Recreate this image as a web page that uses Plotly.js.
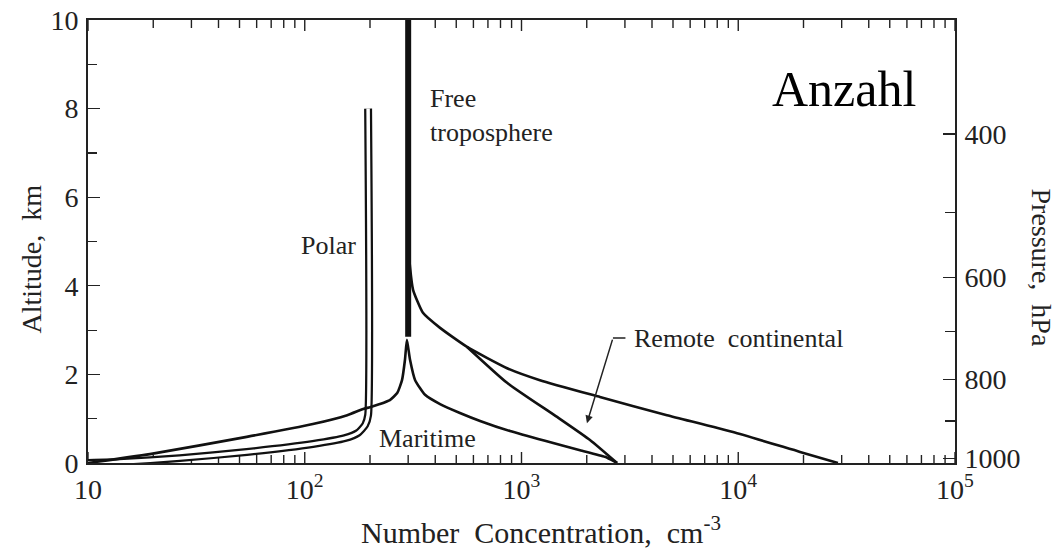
<!DOCTYPE html>
<html>
<head>
<meta charset="utf-8">
<script src="https://cdn.plot.ly/plotly-3.0.1.min.js"></script>
<style>html,body{margin:0;padding:0;background:#fff;}#chart{width:1056px;height:551px;}</style>
</head>
<body>
<div id="chart"></div>
<script>
// ---- data ----
const freeTropN   = [300, 300];
const freeTropAlt = [2.85, 10];

const polarN   = [196, 196, 190, 176, 153, 109, 54, 26.5, 14, 10];
const polarAlt = [8.0, 1.08, 0.86, 0.68, 0.56, 0.43, 0.25, 0.11, 0.02, 0];

const maritimeN   = [10, 19.3, 54, 109, 157, 186, 200, 222, 247, 267, 281, 290, 296,
                     306, 323, 359, 421, 520, 644, 885, 1283, 1862, 2427, 2760];
const maritimeAlt = [0, 0.20, 0.59, 0.88, 1.08, 1.22, 1.26, 1.33, 1.42, 1.58, 1.87, 2.33, 2.78,
                     2.33, 1.87, 1.54, 1.33, 1.13, 0.95, 0.72, 0.50, 0.29, 0.14, 0];

const remoteOuterN   = [28840, 19280, 9460, 4690, 2300, 1216, 858, 561, 421, 351, 316, 306, 300, 300];
const remoteOuterAlt = [0, 0.25, 0.70, 1.08, 1.49, 1.87, 2.14, 2.62, 3.05, 3.39, 3.91, 4.42, 5.03, 10];

const remoteInnerN   = [2760, 2070, 1459, 858, 561];
const remoteInnerAlt = [0, 0.52, 1.04, 1.81, 2.62];

const xTickVals   = [10, 100, 1000, 10000, 100000];
const xTickText   = ['10', '10<sup>2</sup>', '10<sup>3</sup>', '10<sup>4</sup>', '10<sup>5</sup>'];
const yTickVals   = [0, 2, 4, 6, 8, 10];
const pressureLabels = ['400', '600', '800', '1000'];
const pressureAlt    = [7.43, 4.19, 1.89, 0.10];
const pressureMinorAlt = [5.65, 2.96, 0.95];

// minor x ticks: 2..9 of each decade
const xMinor = [];
xTickVals.forEach(d => { if (d < 100000) for (let k = 2; k <= 9; k++) xMinor.push(k * d); });

const serif = 'Liberation Serif, Times New Roman, serif';
const txt = '#222';
const Y_RANGE = [0, 10];
const PLOT_H = 551 - 20 - 88;                   // plot-area height in px
const pxToKm = px => px * (Y_RANGE[1] - Y_RANGE[0]) / PLOT_H;

// inward tick marks on bottom and top of the log x axis, drawn as one segmented trace
function tickTrace(vals, lenPx) {
  const L = pxToKm(lenPx), xs = [], ys = [];
  vals.forEach(v => {
    xs.push(v, v, null, v, v, null);
    ys.push(Y_RANGE[0], Y_RANGE[0] + L, null, Y_RANGE[1], Y_RANGE[1] - L, null);
  });
  return {x: xs, y: ys, type: 'scatter', mode: 'lines', line: {color: '#222', width: 1.4},
          connectgaps: false, hoverinfo: 'skip', showlegend: false};
}

const line = (x, y, w, c) => ({x: x, y: y, type: 'scatter', mode: 'lines', line: {color: c || '#111', width: w, shape: 'spline', smoothing: 0.5}, hoverinfo: 'skip', showlegend: false});

const traces = [
  tickTrace(xTickVals, 11),
  tickTrace(xMinor, 8),
  line(polarN, polarAlt, 8),
  line(polarN, polarAlt, 3.5, '#fff'),
  line(maritimeN, maritimeAlt, 2.6),
  line(remoteOuterN, remoteOuterAlt, 2.6),
  line(remoteInnerN, remoteInnerAlt, 2.6),
  {x: freeTropN, y: freeTropAlt, type: 'scatter', mode: 'lines', line: {color: '#111', width: 6}, hoverinfo: 'skip', showlegend: false},
  {x: [10], y: [0], yaxis: 'y2', type: 'scatter', mode: 'markers', marker: {opacity: 0}, hoverinfo: 'skip', showlegend: false}
];

const L10 = Math.log10;
const tickFont = {family: serif, size: 28, color: txt};
const annFont = {family: serif, size: 26, color: txt};
const titleFont = {family: serif, size: 30, color: txt};
const layout = {
  width: 1056, height: 551,
  margin: {l: 88, r: 101, t: 20, b: 88},
  paper_bgcolor: '#fff', plot_bgcolor: '#fff',
  font: {family: serif, size: 26, color: txt},
  showlegend: false,
  xaxis: {
    type: 'log', range: [1, 5],
    tickmode: 'array', tickvals: xTickVals, ticktext: xTickText,
    ticks: '', showline: true, linecolor: '#222', linewidth: 2, mirror: true,
    showgrid: false, zeroline: false,
    tickfont: tickFont
  },
  yaxis: {
    range: Y_RANGE, tickmode: 'array', tickvals: yTickVals,
    ticks: 'inside', ticklen: 12, tickwidth: 1.3, tickcolor: '#222',
    minor: {dtick: 1, ticks: 'inside', ticklen: 9, tickwidth: 1.2, tickcolor: '#222'},
    showline: true, linecolor: '#222', linewidth: 2, mirror: false,
    showgrid: false, zeroline: false,
    ticklabelstandoff: 2,
    tickfont: tickFont
  },
  yaxis2: {
    overlaying: 'y', side: 'right', range: Y_RANGE,
    tickmode: 'array', tickvals: pressureAlt, ticktext: pressureLabels,
    ticks: 'inside', ticklen: 12, tickwidth: 1.3, tickcolor: '#222',
    minor: {tickmode: 'array', tickvals: pressureMinorAlt, ticks: 'inside', ticklen: 10, tickwidth: 1.2, tickcolor: '#222'},
    showline: true, linecolor: '#222', linewidth: 2,
    showgrid: false, zeroline: false,
    ticklabelstandoff: 2,
    tickfont: tickFont
  },
  annotations: [
    {xref: 'paper', yref: 'paper', x: 0.5, y: 0, xanchor: 'center', yanchor: 'middle', xshift: 19, yshift: -67, text: 'Number\u00a0\u00a0Concentration,\u00a0\u00a0cm<sup>-3</sup>', showarrow: false, font: titleFont},
    {xref: 'paper', yref: 'paper', x: 0, y: 0.5, xanchor: 'center', yanchor: 'middle', xshift: -57, yshift: -18, text: 'Altitude,\u00a0\u00a0km', textangle: -90, showarrow: false, font: {family: serif, size: 28, color: txt}},
    {xref: 'paper', yref: 'paper', x: 1, y: 0.5, xanchor: 'center', yanchor: 'middle', xshift: 86, yshift: -26, text: 'Pressure,\u00a0\u00a0hPa', textangle: 90, showarrow: false, font: {family: serif, size: 28, color: txt}},
    {xref: 'paper', yref: 'paper', x: 0.957, y: 0.845, xanchor: 'right', yanchor: 'middle', text: 'Anzahl', showarrow: false, font: {family: serif, size: 50, color: '#000'}},
    {x: L10(370), y: 7.85, xanchor: 'left', align: 'left', text: 'Free<br>troposphere', showarrow: false, font: annFont},
    {x: L10(176), y: 4.9, xanchor: 'right', text: 'Polar', showarrow: false, font: annFont},
    {x: L10(215), y: 0.55, xanchor: 'left', text: 'Maritime', showarrow: false, font: annFont},
    {x: L10(3250), y: 2.82, xanchor: 'left', text: 'Remote\u00a0\u00a0continental', showarrow: false, font: annFont},
    {x: L10(2004), y: 0.9, ax: 26, ay: -85, text: '', showarrow: true, arrowhead: 2, arrowsize: 1, arrowwidth: 1.5, arrowcolor: '#222'},
    {x: L10(2642), y: 2.82, ax: 14, ay: 0, text: '', showarrow: true, arrowhead: 0, arrowwidth: 1.5, arrowcolor: '#222'}
  ]
};

Plotly.newPlot('chart', traces, layout, {staticPlot: true, displayModeBar: false});
</script>
</body>
</html>
